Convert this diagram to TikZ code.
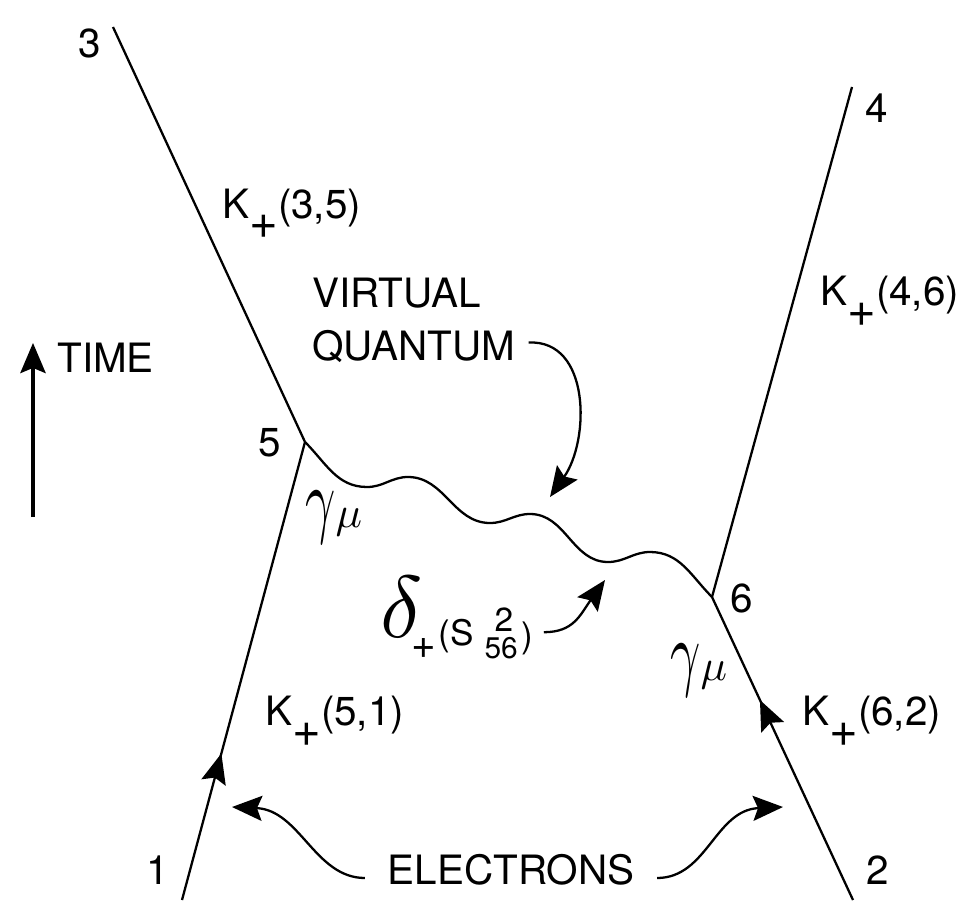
\RequirePackage{fix-cm}
\documentclass[tikz,border=0pt]{standalone}
\usepackage{fontspec}
\setmainfont{TeX Gyre Heros}
\usepackage{graphicx}
\usetikzlibrary{arrows.meta,decorations.markings}

\newcommand{\kprop}[1]{K\raisebox{-0.42cm}{\fontsize{28}{30}\selectfont+}(#1)}
\newcommand{\gmu}{{\normalsize\scalebox{3.0}[4.8]{$\gamma$}\scalebox{2.5}{$\mu$}}}

\begin{document}
\begin{tikzpicture}[
    every node/.style={font=\fontsize{23}{30}\selectfont, inner sep=0pt},
    world/.style={line width=1.3pt},
    fermion/.style={world, postaction={decorate}, decoration={markings,
        mark=at position #1 with {\arrow{Stealth[length=6mm,width=5mm,inset=1mm]}}}},
    pointer/.style={-{Stealth[length=6mm,width=5mm,inset=1mm]}, line width=1.3pt},
]
\useasboundingbox (0,0) rectangle (19.26,18);

% Vertices and loose ends of the world lines
\coordinate (top3) at (2.26,17.46);
\coordinate (v5) at (6.10,9.16);
\coordinate (bot1) at (3.64,0);
\coordinate (top4) at (17.04,16.26);
\coordinate (v6) at (14.24,6.06);
\coordinate (bot2) at (17.06,0);

% Electron world lines
\draw[world] (top3) -- (v5);
\draw[fermion=0.32] (bot1) -- (v5);
\draw[world] (top4) -- (v6);
\draw[fermion=0.66] (bot2) -- (v6);

% Virtual quantum exchanged between 5 and 6
\draw[world] (v5) to[out=-45,in=180] (7.34,8.26) to[out=0,in=180] (8.16,8.46)
    to[out=0,in=180] (9.80,7.54) to[out=0,in=180] (10.60,7.72)
    to[out=0,in=180] (12.16,6.76) to[out=0,in=180] (13.00,6.96)
    to[out=0,in=135] (v6);

% Point labels
\node (n3) at (1.80,17.14) {3};
\node (n4) at (17.54,15.84) {4};
\node (n5) at (5.40,9.14) {5};
\node (n6) at (14.84,6.04) {6};
\node (n1) at (3.16,0.60) {1};
\node (n2) at (17.56,0.60) {2};

% Propagators
\node[anchor=base west] (k35) at (4.44,13.64) {\kprop{3,5}};
\node[anchor=base west] (k46) at (16.40,11.90) {\kprop{4,6}};
\node[anchor=base west] (k51) at (5.30,3.50) {\kprop{5,1}};
\node[anchor=base west] (k62) at (16.04,3.50) {\kprop{6,2}};

% Vertex factors
\node[anchor=base west] (g5) at (6.10,7.46) {\gmu};
\node[anchor=base west] (g6) at (13.40,4.40) {\gmu};

% Time axis
\node[anchor=west] (time) at (1.14,10.84) {TIME};
\coordinate (tlow) at (0.66,7.66);
\draw[pointer, line width=2.5pt] (tlow) -- (tlow |- time.north);

% Virtual quantum annotation
\node[anchor=north west, align=left] (vq) at (6.24,12.44) {VIRTUAL\\QUANTUM};
\coordinate (vqtip) at (11.00,8.06);
\draw[pointer] ([xshift=0.26cm,yshift=-0.44cm]vq.east)
    .. controls +(1.24,0.06) and +(0.80,1.14) .. (vqtip);

% Photon propagator annotation
\node[anchor=base west] (delta) at (7.60,5.26)
    {{\normalsize\scalebox{5}{$\delta$}}\hspace{-0.22cm}%
    \raisebox{-0.42cm}{\fontsize{24}{26}\selectfont+}\hspace{0.04cm}%
    {\fontsize{20}{22}\selectfont\raisebox{-0.16cm}{(S}}\hspace{0.22cm}%
    \rlap{\hspace{0.2cm}\raisebox{0.12cm}{\fontsize{19}{22}\selectfont 2}}%
    \raisebox{-0.42cm}{\fontsize{17}{20}\selectfont 56}\hspace{0.08cm}%
    {\fontsize{20}{22}\selectfont\raisebox{-0.2cm}{)}}};
\coordinate (dtip) at (12.10,6.40);
\draw[pointer] ([xshift=0.2cm,yshift=-0.3cm]delta.east)
    .. controls +(0.6,0) and +(-0.5,-0.7) .. (dtip);

% Electrons annotation
\node (elec) at (10.22,0.60) {ELECTRONS};
\coordinate (etipl) at (4.64,1.86);
\coordinate (etipr) at (15.66,1.86);
\draw[pointer] ([xshift=-0.45cm,yshift=-0.16cm]elec.west)
    .. controls +(-1,0) and +(1.36,-0.06) .. (etipl);
\draw[pointer] ([xshift=0.45cm,yshift=-0.16cm]elec.east)
    .. controls +(1,0) and +(-1.36,-0.06) .. (etipr);
\end{tikzpicture}
\end{document}
